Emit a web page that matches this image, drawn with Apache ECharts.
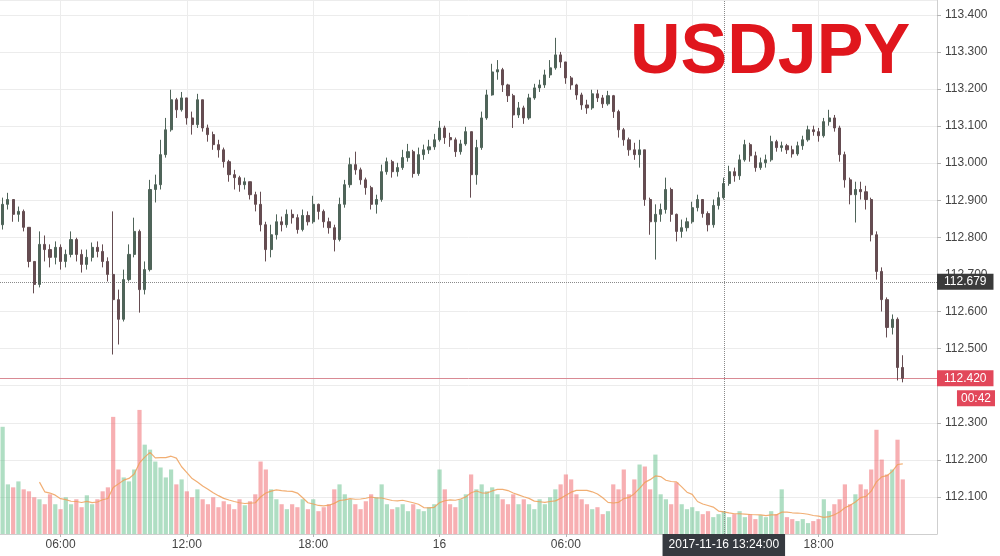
<!DOCTYPE html>
<html>
<head>
<meta charset="utf-8">
<script src="https://cdn.jsdelivr.net/npm/echarts@6/dist/echarts.min.js"></script>
<style>
html,body{margin:0;padding:0;background:#ffffff;}
#chart{width:1000px;height:556px;}
</style>
</head>
<body>
<div id="chart"></div>
<script>
// ---- data (15-minute candles, USDJPY, 2017-11-15 03:15 onward) ----
const slotStartUTC = Date.UTC(2017, 10, 15, 3, 15);
const slotMinutes = 15;
const slotCount = 178;          // axis slots (data + empty right margin)

const opens = [
112.834,112.889,112.902,112.862,112.870,112.827,112.735,112.673,112.781,112.767,
112.746,112.773,112.735,112.754,112.794,112.754,112.727,112.746,112.773,112.762,
112.735,112.700,112.632,112.579,112.686,112.754,112.816,112.659,112.713,112.929,
112.942,113.023,113.090,113.171,113.144,113.176,113.122,113.104,113.171,113.095,
113.077,113.050,113.036,113.004,112.969,112.961,112.942,112.950,112.915,112.889,
112.834,112.767,112.807,112.842,112.834,112.862,112.853,112.821,112.859,112.842,
112.889,112.870,112.842,112.826,112.794,112.889,112.942,112.996,112.982,112.955,
112.934,112.889,112.902,112.977,113.004,112.977,112.988,113.015,113.031,112.972,
113.023,113.036,113.044,113.063,113.095,113.069,113.063,113.031,113.052,113.085,
112.969,113.042,113.122,113.184,113.246,113.252,113.211,113.182,113.130,113.149,
113.122,113.176,113.203,113.211,113.238,113.257,113.292,113.273,113.230,113.211,
113.184,113.157,113.149,113.187,113.176,113.160,113.182,113.139,113.090,113.063,
113.036,113.023,113.036,112.902,112.842,112.862,112.875,112.929,112.862,112.816,
112.826,112.842,112.880,112.902,112.864,112.834,112.886,112.907,112.945,112.977,
112.966,113.009,113.050,113.020,112.988,113.001,113.009,113.058,113.042,113.047,
113.036,113.025,113.047,113.063,113.090,113.085,113.074,113.112,113.122,113.095,
113.023,112.955,112.915,112.929,112.923,112.902,112.807,112.708,112.632,112.557,
112.579,112.449
];
const closes = [
112.889,112.902,112.862,112.870,112.827,112.735,112.673,112.781,112.767,112.746,
112.773,112.735,112.754,112.794,112.754,112.727,112.746,112.773,112.762,112.735,
112.700,112.632,112.579,112.686,112.754,112.816,112.659,112.713,112.929,112.942,
113.023,113.090,113.171,113.144,113.176,113.122,113.104,113.171,113.095,113.077,
113.050,113.036,113.004,112.969,112.961,112.942,112.950,112.915,112.889,112.834,
112.767,112.807,112.842,112.834,112.862,112.853,112.821,112.859,112.842,112.889,
112.870,112.842,112.826,112.794,112.889,112.942,112.996,112.982,112.955,112.934,
112.889,112.902,112.977,113.004,112.977,112.988,113.015,113.031,112.972,113.023,
113.036,113.044,113.063,113.095,113.069,113.063,113.031,113.052,113.085,112.969,
113.042,113.122,113.184,113.246,113.252,113.211,113.182,113.130,113.149,113.122,
113.176,113.203,113.211,113.238,113.257,113.292,113.273,113.230,113.211,113.184,
113.157,113.149,113.187,113.176,113.160,113.182,113.139,113.090,113.063,113.036,
113.023,113.036,112.902,112.842,112.862,112.875,112.929,112.862,112.816,112.826,
112.842,112.880,112.902,112.864,112.834,112.886,112.907,112.945,112.977,112.966,
113.009,113.050,113.020,112.988,113.001,113.009,113.058,113.042,113.047,113.036,
113.025,113.047,113.063,113.090,113.085,113.074,113.112,113.122,113.095,113.023,
112.955,112.915,112.929,112.923,112.902,112.807,112.708,112.632,112.557,112.579,
112.449,112.420
];
const highs = [
112.907,112.920,112.902,112.883,112.875,112.827,112.735,112.816,112.805,112.781,
112.789,112.781,112.767,112.816,112.799,112.767,112.767,112.786,112.789,112.781,
112.746,112.870,112.659,112.713,112.781,112.853,112.821,112.735,112.955,112.969,
113.063,113.122,113.198,113.176,113.192,113.176,113.139,113.187,113.171,113.104,
113.085,113.063,113.042,113.009,112.982,112.966,112.961,112.950,112.923,112.923,
112.842,112.834,112.862,112.856,112.875,112.875,112.862,112.875,112.870,112.912,
112.891,112.875,112.853,112.834,112.907,112.955,113.015,113.031,112.988,112.961,
112.939,112.915,112.996,113.015,113.009,113.001,113.036,113.052,113.036,113.042,
113.050,113.063,113.079,113.114,113.101,113.082,113.069,113.063,113.098,113.085,
113.063,113.139,113.198,113.268,113.278,113.257,113.214,113.187,113.165,113.155,
113.187,113.214,113.225,113.252,113.278,113.338,113.300,113.273,113.235,113.214,
113.190,113.171,113.198,113.198,113.184,113.195,113.184,113.144,113.095,113.069,
113.055,113.063,113.036,112.907,112.889,112.891,112.961,112.934,112.864,112.848,
112.853,112.896,112.915,112.902,112.870,112.902,112.923,112.961,112.993,112.988,
113.023,113.063,113.055,113.031,113.015,113.023,113.074,113.063,113.058,113.052,
113.047,113.058,113.074,113.101,113.101,113.095,113.122,113.144,113.130,113.101,
113.031,112.961,112.950,112.950,112.939,112.907,112.816,112.719,112.638,112.592,
112.584,112.482
];
const lows = [
112.821,112.875,112.842,112.842,112.816,112.719,112.649,112.665,112.735,112.719,
112.727,112.713,112.719,112.746,112.735,112.705,112.713,112.735,112.746,112.719,
112.681,112.484,112.511,112.573,112.681,112.746,112.597,112.646,112.708,112.894,
112.929,113.015,113.085,113.122,113.139,113.104,113.077,113.095,113.085,113.058,
113.036,113.015,112.988,112.950,112.929,112.923,112.929,112.902,112.870,112.816,
112.735,112.746,112.794,112.816,112.826,112.837,112.810,112.816,112.832,112.837,
112.848,112.826,112.810,112.762,112.789,112.880,112.934,112.969,112.942,112.915,
112.875,112.864,112.896,112.969,112.961,112.964,112.982,113.004,112.961,112.966,
113.009,113.025,113.036,113.058,113.052,113.044,113.017,113.023,113.047,112.907,
112.942,113.036,113.117,113.182,113.225,113.192,113.165,113.095,113.122,113.106,
113.117,113.171,113.192,113.203,113.230,113.252,113.257,113.214,113.198,113.171,
113.144,113.133,113.144,113.165,113.149,113.155,113.122,113.069,113.047,113.020,
113.009,112.988,112.885,112.807,112.740,112.842,112.864,112.842,112.789,112.799,
112.816,112.837,112.870,112.853,112.816,112.826,112.875,112.902,112.939,112.950,
112.955,113.004,113.004,112.977,112.982,112.988,113.004,113.031,113.031,113.025,
113.015,113.020,113.036,113.058,113.074,113.058,113.069,113.101,113.085,113.004,
112.934,112.889,112.840,112.902,112.875,112.789,112.686,112.600,112.530,112.538,
112.414,112.409
];
const volumes = [
108,50,47,53,45,43,37,35,30,40,
30,25,37,30,35,27,39,30,35,43,
47,118,65,57,53,65,125,90,85,73,
67,57,65,50,55,43,37,45,35,30,
37,27,33,30,25,35,29,33,40,73,
65,45,35,30,25,30,27,35,25,35,
23,27,30,45,50,40,35,30,25,33,
40,37,50,30,25,27,30,23,30,25,
23,27,30,65,45,30,27,35,40,60,
45,50,43,47,40,35,30,40,30,35,
30,25,35,30,37,45,50,60,55,40,
35,30,25,27,20,23,50,45,65,40,
55,70,68,45,80,40,35,30,52,30,
25,27,23,20,23,17,20,23,17,20,
23,17,20,15,19,17,23,20,45,17,
15,13,15,11,13,15,35,23,30,35,
50,30,40,50,45,65,105,75,60,65,
95,55
];
const priceScale = {min: 112.0, max: 113.44, step: 0.1};
const hiddenPriceLabels = [112.4];   // covered by the last-price tags
const crosshairPrice = 112.679;
const crosshairTime = '2017-11-16 13:30';
const crosshairText = '2017-11-16 13:24:00';
const lastPrice = 112.420;
const countdownText = '00:42';
const volumeMaPeriod = 8;

// ---- categories ----
function pad(n){return (n<10?'0':'')+n;}
const categories = [];
for (let i = 0; i < slotCount; i++) {
  const d = new Date(slotStartUTC + i * slotMinutes * 60000);
  categories.push(d.getUTCFullYear()+'-'+pad(d.getUTCMonth()+1)+'-'+pad(d.getUTCDate())+' '+pad(d.getUTCHours())+':'+pad(d.getUTCMinutes()));
}
function isSixHour(v){ return v.slice(14,16)==='00' && (+v.slice(11,13))%6===0; }
function labelShown(idx, v){
  if (!isSixHour(v)) return false;
  if (v.slice(8,10)==='16' && v.slice(11,13)==='12') return false; // hidden under crosshair label
  return true;
}
function gridLineShown(idx, v){ return isSixHour(v); }
function fmtTime(v){
  if (v.slice(11,16)==='00:00') return String(+v.slice(8,10));
  return v.slice(11,16);
}
function fmtPrice(v){
  for (const h of hiddenPriceLabels) if (Math.abs(v-h) < 1e-6) return '';
  return v.toFixed(3);
}

const candleData = opens.map((o,i)=>[o, closes[i], lows[i], highs[i]]);
const volData = volumes.map((v,i)=>({
  value: v,
  itemStyle: {color: closes[i] >= opens[i] ? 'rgba(110,195,145,0.55)' : 'rgba(240,110,115,0.55)'}
}));
const volMa = volumes.map((v,i)=>{
  if (i < volumeMaPeriod-1) return '-';
  let s=0; for(let k=i-volumeMaPeriod+1;k<=i;k++) s+=volumes[k];
  return +(s/volumeMaPeriod).toFixed(2);
});

const FONT = 'Liberation Sans, Arial, sans-serif';
const chart = echarts.init(document.getElementById('chart'), null, {renderer:'canvas'});
chart.setOption({
  animation: false,
  backgroundColor: '#ffffff',
  title: {
    text: 'USDJPY', left: 630, top: 19, padding: 0,
    textStyle: {color:'#e0161d', fontSize: 70, fontWeight:'bold', fontFamily: FONT}
  },
  grid: [
    {left: 0, right: 63, top: 0, bottom: 22},
    {left: 0, right: 63, top: 400, bottom: 22}
  ],
  xAxis: [
    {
      type:'category', gridIndex:0, data: categories, boundaryGap: true,
      axisLine:{lineStyle:{color:'#cfcfcf'}},
      axisTick:{show:true, alignWithLabel:true, interval: labelShown, length:3, lineStyle:{color:'#b5b5b5'}},
      axisLabel:{interval: labelShown, formatter: fmtTime, color:'#444', fontSize:12, margin:5, fontFamily: FONT},
      splitLine:{show:true, alignWithLabel:true, interval: gridLineShown, lineStyle:{color:'#ececec'}}
    },
    {
      type:'category', gridIndex:1, data: categories, boundaryGap: true,
      axisLine:{show:false}, axisTick:{show:false}, axisLabel:{show:false}, splitLine:{show:false}
    }
  ],
  yAxis: [
    {
      type:'value', gridIndex:0, position:'right', scale:true,
      min: priceScale.min, max: priceScale.max, interval: priceScale.step,
      axisLine:{show:true, lineStyle:{color:'#cfcfcf'}},
      axisTick:{show:true, length:4, lineStyle:{color:'#b5b5b5'}},
      axisLabel:{formatter: fmtPrice, color:'#444', fontSize:12, margin:8, fontFamily: FONT, showMinLabel:false, showMaxLabel:false},
      splitLine:{show:true, lineStyle:{color:'#ececec'}}
    },
    {
      type:'value', gridIndex:1, min:0, max:135, show:false, splitLine:{show:false}
    }
  ],
  series: [
    {
      type:'bar', name:'Volume', xAxisIndex:1, yAxisIndex:1, data: volData,
      barWidth:'80%', z:2, silent:true
    },
    {
      type:'line', name:'Vol MA', xAxisIndex:1, yAxisIndex:1, data: volMa,
      symbol:'none', lineStyle:{color:'rgba(238,160,90,0.85)', width:1.2}, z:3, silent:true
    },
    {
      type:'candlestick', name:'USDJPY', xAxisIndex:0, yAxisIndex:0, data: candleData,
      barMaxWidth: 3, z:5,
      itemStyle:{color:'#4f6459', color0:'#654c51', borderColor:'#4f6459', borderColor0:'#654c51', borderWidth:1},
      markLine:{
        silent:true, symbol:['none','none'], animation:false,
        data:[
          {yAxis: crosshairPrice,
           lineStyle:{type:'dotted', color:'#8a8a8a', width:1},
           label:{show:true, position:'end', formatter: crosshairPrice.toFixed(3), distance:0,
                  backgroundColor:'#3a3a3a', color:'#ffffff', padding:[2,7], fontSize:12, fontFamily: FONT}},
          {yAxis: lastPrice,
           lineStyle:{type:'solid', color:'#d98a94', width:1},
           label:{show:true, position:'end', formatter: lastPrice.toFixed(3), distance:0,
                  backgroundColor:'#e2475a', color:'#ffffff', padding:[2,7], fontSize:12, fontFamily: FONT}},
          {xAxis: crosshairTime,
           lineStyle:{type:'dotted', color:'#8a8a8a', width:1},
           label:{show:true, position:'start', formatter: crosshairText, distance:0,
                  backgroundColor:'#363a40', color:'#ffffff', padding:[5,6], fontSize:12, fontFamily: FONT}}
        ]
      }
    }
  ]
});

const lastY = chart.convertToPixel({yAxisIndex:0}, lastPrice);
chart.setOption({
  graphic:[{
    type:'text', right:5, top: lastY + 12, z:100,
    style:{text: countdownText, fill:'#ffffff', backgroundColor:'#e2475a', padding:[2,4], font:'12px '+FONT}
  }]
});
</script>
</body>
</html>
